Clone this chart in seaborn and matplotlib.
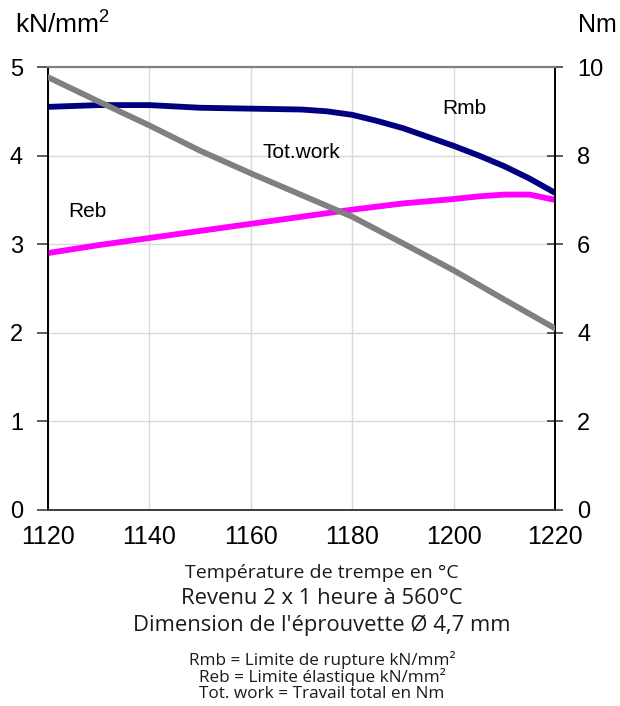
import matplotlib
matplotlib.use("Agg")
import matplotlib.pyplot as plt
import seaborn as sns
import pandas as pd

temps_rmb = [1120, 1130, 1140, 1150, 1160, 1170, 1175, 1180, 1185, 1190, 1195,
             1200, 1205, 1210, 1215, 1220]
rmb = [4.55, 4.57, 4.57, 4.54, 4.53, 4.52, 4.50, 4.46, 4.39, 4.31, 4.21,
       4.11, 4.00, 3.88, 3.74, 3.58]

temps_reb = [1120, 1130, 1140, 1150, 1160, 1170, 1180, 1190, 1200, 1205, 1210,
             1215, 1220]
reb = [2.90, 2.99, 3.07, 3.15, 3.23, 3.31, 3.39, 3.46, 3.51, 3.54, 3.56,
       3.56, 3.50]

temps_work = [1120, 1130, 1140, 1150, 1160, 1170, 1180, 1190, 1200, 1210, 1220]
totwork = [9.77, 9.22, 8.68, 8.11, 7.60, 7.11, 6.62, 6.02, 5.41, 4.75, 4.10]

x_ticks = [1120, 1140, 1160, 1180, 1200, 1220]
left_ticks = [0, 1, 2, 3, 4, 5]
right_ticks = [0, 2, 4, 6, 8, 10]

df_rmb = pd.DataFrame({"T": temps_rmb, "v": rmb})
df_reb = pd.DataFrame({"T": temps_reb, "v": reb})
df_work = pd.DataFrame({"T": temps_work, "v": totwork})

sns.set_style("white")
plt.rcParams["font.family"] = ["Liberation Sans", "DejaVu Sans"]
plt.rcParams["text.color"] = "black"
plt.rcParams["xtick.color"] = "black"
plt.rcParams["ytick.color"] = "black"
plt.rcParams["mathtext.fontset"] = "custom"
plt.rcParams["mathtext.rm"] = "Liberation Sans"
plt.rcParams["mathtext.it"] = "Liberation Sans"
plt.rcParams["mathtext.bf"] = "Liberation Sans"

fig = plt.figure(figsize=(6.2, 7.06), dpi=100)
ax = fig.add_axes([48 / 620, 1 - 510 / 706, (555 - 48) / 620, (510 - 67) / 706])
ax2 = ax.twinx()

lw = 4.2
sns.lineplot(data=df_rmb, x="T", y="v", ax=ax, color="#000080", lw=lw, zorder=3)
sns.lineplot(data=df_reb, x="T", y="v", ax=ax, color="#FF00FF", lw=lw, zorder=3)
sns.lineplot(data=df_work, x="T", y="v", ax=ax2, color="#808080", lw=lw, zorder=3)

ax.set_xlim(1120, 1220)
ax.set_ylim(0, 5)
ax2.set_ylim(0, 10)
ax.set_xticks(x_ticks)
ax.set_yticks(left_ticks)
ax2.set_yticks(right_ticks)
ax.set_xlabel("")
ax.set_ylabel("")
ax2.set_ylabel("")

ax.grid(True, color="#d9d9d9", lw=1.0, zorder=0)
ax.set_axisbelow(True)

for a in (ax, ax2):
    a.spines["top"].set_color("#808080")
    a.spines["top"].set_linewidth(1.5)
    a.spines["left"].set_color("#000000")
    a.spines["right"].set_color("#000000")
    a.spines["bottom"].set_color("#404040")
    for s in ("left", "right", "bottom"):
        a.spines[s].set_linewidth(1.3)

ax.tick_params(axis="x", direction="inout", length=9, width=1.2, color="#404040",
               labelsize=18, pad=6, labelcolor="black")
ax.tick_params(axis="y", direction="out", length=8, width=1.2, color="#404040",
               labelsize=17, pad=10, labelcolor="black")
ax2.tick_params(axis="y", direction="inout", length=12, width=1.2, color="#404040",
                labelsize=17, pad=10, labelcolor="black")

ax.text(1202.2, 4.53, "Rmb", fontsize=15, ha="center", va="center", color="black")
ax.text(1169.9, 4.04, "Tot.work", fontsize=15, ha="center", va="center", color="black")
ax.text(1127.8, 3.37, "Reb", fontsize=15, ha="center", va="center", color="black")

fig.text(15 / 620, 1 - 25 / 706, r"kN/mm$^{\mathregular{2}}$", fontsize=19, ha="left", va="center")
fig.text(617 / 620, 1 - 25 / 706, "Nm", fontsize=18, ha="right", va="center")

bf = ["Open Sans", "DejaVu Sans"]
cx = 322 / 620
tc = "#1a1a1a"
fig.text(cx, 1 - 573 / 706, "Température de trempe en °C", fontsize=14, ha="center", va="center", family=bf, color=tc)
fig.text(cx, 1 - 599 / 706, "Revenu 2 x 1 heure à 560°C", fontsize=15.8, ha="center", va="center", family=bf, color=tc)
fig.text(cx, 1 - 625 / 706, "Dimension de l'éprouvette Ø 4,7 mm", fontsize=15.8, ha="center", va="center", family=bf, color=tc)
fig.text(cx, 1 - 660 / 706, "Rmb = Limite de rupture kN/mm²", fontsize=12.3, ha="center", va="center", family=bf, color=tc)
fig.text(cx, 1 - 677 / 706, "Reb = Limite élastique kN/mm²", fontsize=12.3, ha="center", va="center", family=bf, color=tc)
fig.text(cx, 1 - 694 / 706, "Tot. work = Travail total en Nm", fontsize=12.3, ha="center", va="center", family=bf, color=tc)

fig.savefig("out.png", dpi=100, facecolor="white")
